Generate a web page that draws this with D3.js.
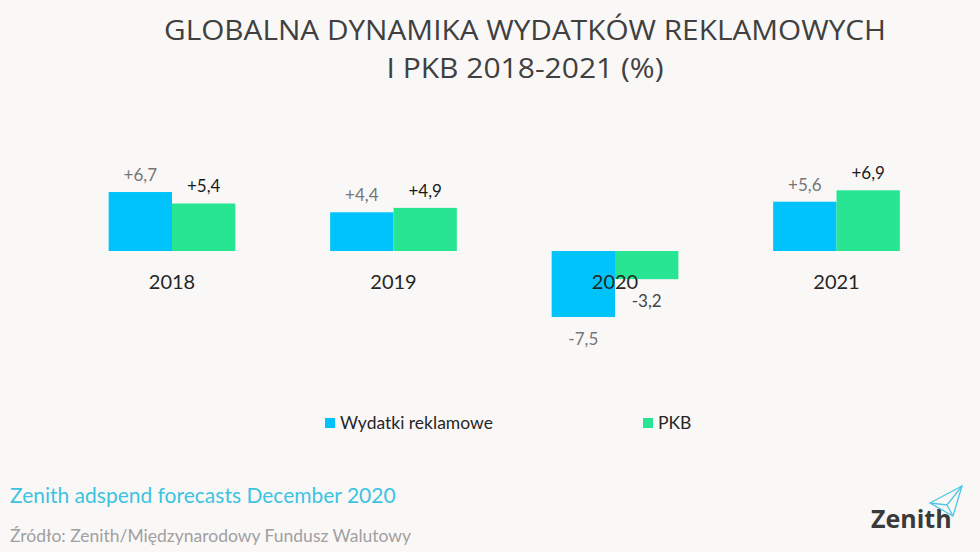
<!DOCTYPE html>
<html><head><meta charset="utf-8">
<script src="https://cdn.jsdelivr.net/npm/d3@7/dist/d3.min.js"></script>
<style>
html,body{margin:0;padding:0;background:#faf8f7;}
svg{display:block;font-family:Lato, "Open Sans", sans-serif;}
</style></head>
<body>
<svg id="c" width="980" height="552"></svg>
<script>
const categories = ["2018", "2019", "2020", "2021"];
const seriesNames = ["Wydatki reklamowe", "PKB"];
const adspend = [6.7, 4.4, -7.5, 5.6];
const gdp = [5.4, 4.9, -3.2, 6.9];
const adspendLabels = ["+6,7", "+4,4", "-7,5", "+5,6"];
const gdpLabels = ["+5,4", "+4,9", "-3,2", "+6,9"];
const titleLines = ["GLOBALNA DYNAMIKA WYDATKÓW REKLAMOWYCH", "I PKB 2018-2021 (%)"];
const colors = ["#00c3fb", "#27e593"];

const svg = d3.select("#c");
const W = 980, H = 552;
svg.append("rect").attr("width", W).attr("height", H).attr("fill", "#faf8f7");

// title
const titleW = [722, 277], titleY = [40, 78];
titleLines.forEach((t, i) => {
  svg.append("text").attr("x", 525).attr("y", titleY[i]).attr("text-anchor", "middle")
    .attr("fill", "#404040").style("font-family", "'Open Sans', sans-serif").style("font-size", "27.5px")
    .attr("textLength", titleW[i]).attr("lengthAdjust", "spacingAndGlyphs").text(t);
});

const x0 = d3.scaleBand().domain(categories).range([61.25, 947.25]).paddingInner(0.428).paddingOuter(0.214);
const x1 = d3.scaleBand().domain(seriesNames).range([0, x0.bandwidth()]).padding(0);
const ppu = 8.8;
const y = d3.scaleLinear().domain([0, 1]).range([251, 251 - ppu]);

const data = categories.map((c, i) => ({ c, vals: [
  { s: seriesNames[0], v: adspend[i], lab: adspendLabels[i], k: 0 },
  { s: seriesNames[1], v: gdp[i], lab: gdpLabels[i], k: 1 }
]}));

const g = svg.append("g");
const grp = g.selectAll("g.grp").data(data).join("g").attr("class", "grp")
  .attr("transform", d => `translate(${x0(d.c)},0)`);

grp.selectAll("rect").data(d => d.vals).join("rect")
  .attr("x", d => x1(d.s))
  .attr("width", x1.bandwidth())
  .attr("y", d => y(Math.max(0, d.v)))
  .attr("height", d => Math.abs(y(d.v) - y(0)))
  .attr("fill", d => colors[d.k]);

// category labels
grp.append("text").attr("x", x0.bandwidth() / 2).attr("y", 289)
  .attr("text-anchor", "middle").attr("fill", "#262626")
  .style("font-size", "20px").text(d => d.c);

// value labels
grp.selectAll("text.val").data(d => d.vals).join("text").attr("class", "val")
  .attr("x", d => x1(d.s) + x1.bandwidth() / 2)
  .attr("y", d => d.v >= 0 ? y(d.v) - 11 : y(d.v) + 28)
  .attr("text-anchor", "middle")
  .attr("fill", d => d.k === 0 ? "#767676" : (d.v >= 0 ? "#1a1a1a" : "#444"))
  .style("font-size", "17px")
  .text(d => d.lab);

// legend
const legX = [325, 643];
const leg = svg.selectAll("g.leg").data(seriesNames).join("g").attr("class", "leg")
  .attr("transform", (d, i) => `translate(${legX[i]},418)`);
leg.append("rect").attr("width", 10).attr("height", 10).attr("fill", (d, i) => colors[i]);
leg.append("text").attr("x", 15).attr("y", 11).attr("fill", "#262626")
  .style("font-size", "17.5px").text(d => d);

// footer
svg.append("text").attr("x", 10).attr("y", 503).attr("fill", "#3cc3e2")
  .style("font-size", "21px").text("Zenith adspend forecasts December 2020");
svg.append("text").attr("x", 10).attr("y", 542).attr("fill", "#a0a0a0")
  .style("font-size", "17.5px").text("Źródło: Zenith/Międzynarodowy Fundusz Walutowy");

// logo
svg.append("text").attr("x", 871).attr("y", 528).attr("fill", "#3a3a3a")
  .style("font-family", "'Open Sans', sans-serif").style("font-weight", "bold").style("font-size", "25px")
  .text("Zenith");
const plane = svg.append("g").attr("fill", "none").attr("stroke", "#4cc6e6").attr("stroke-width", 1.3);
plane.append("path").attr("d", "M930,503 L962,486 L953,516 Z");
plane.append("path").attr("d", "M930,503 L947,505 L962,486 M947,505 L953,516");
</script>
</body></html>
